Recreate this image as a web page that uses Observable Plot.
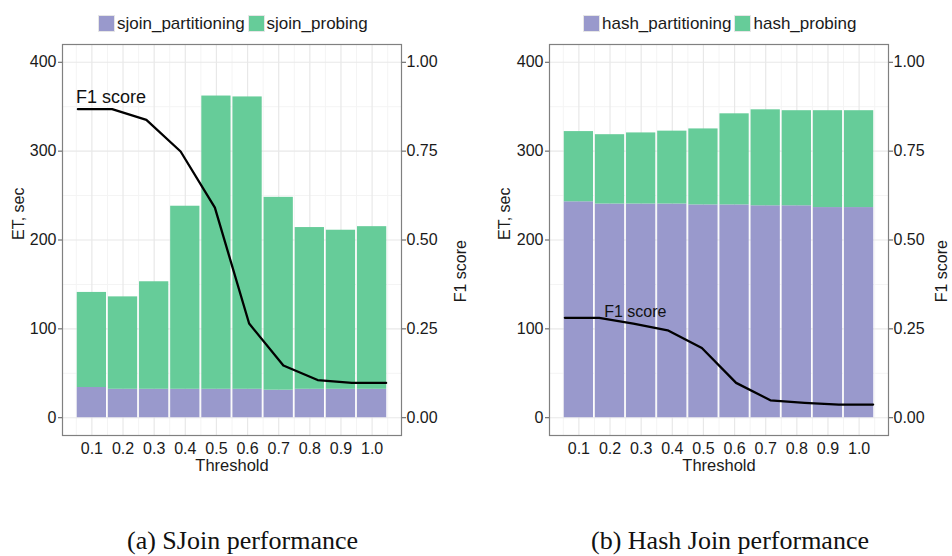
<!DOCTYPE html>
<html>
<head>
<meta charset="utf-8">
<script src="https://cdn.jsdelivr.net/npm/d3@7"></script>
<script src="https://cdn.jsdelivr.net/npm/@observablehq/plot@0.6"></script>
<style>
  html, body { margin: 0; padding: 0; background: #fff; }
  #wrap { position: relative; width: 952px; height: 556px; overflow: hidden; background: #fff; font-family: "Liberation Sans", Arial, Helvetica, sans-serif; }
  .panel { position: absolute; top: 0; }
  .legend { position: absolute; top: 15px; display: flex; align-items: center; height: 17px; font-size: 17px; color: #1a1a1a; white-space: nowrap; }
  .legend .sw { width: 17px; height: 17px; box-sizing: border-box; border: 1px solid #e6e6e6; margin-right: 2px; }
  .legend .item { display: flex; align-items: center; margin-right: 3px; line-height: 17px; }
  .caption { position: absolute; top: 528px; font-family: "Liberation Serif", "Times New Roman", serif; font-size: 26px; line-height: 26px; color: #111; transform: translateX(-50%); white-space: nowrap; }
</style>
</head>
<body>
<div id="wrap"></div>
<script>
// ---- data ----
const thresholds = [0.1, 0.2, 0.3, 0.4, 0.5, 0.6, 0.7, 0.8, 0.9, 1.0];

const sjoinSeries = ["sjoin_partitioning", "sjoin_probing"];
const sjoinPartitioning = [34, 32, 32, 32, 32, 32, 31, 32, 32, 32];
const sjoinProbing      = [107, 104, 121, 206, 330, 329, 217, 182, 179, 183];
const sjoinF1           = [0.868, 0.868, 0.838, 0.749, 0.591, 0.265, 0.147, 0.106, 0.098, 0.098];

const hashSeries = ["hash_partitioning", "hash_probing"];
const hashPartitioning = [243, 240.5, 240.5, 240.5, 239.5, 239.5, 238.5, 238.5, 236.5, 236.5];
const hashProbing      = [79, 78, 80, 82, 85.5, 102.5, 108, 107, 109, 109];
const hashF1           = [0.281, 0.281, 0.265, 0.246, 0.196, 0.098, 0.049, 0.042, 0.037, 0.037];

// x positions of the F1 line vertices (line spans the full bar extent)
const f1X = [0.055, 0.165, 0.275, 0.385, 0.495, 0.605, 0.715, 0.825, 0.935, 1.045];

const yTicks  = [0, 100, 200, 300, 400];
const yMinor  = [50, 150, 250, 350];
const xMinor  = [0.05, 0.15, 0.25, 0.35, 0.45, 0.55, 0.65, 0.75, 0.85, 0.95, 1.05];
const f1Max   = 1.0;      // right axis 1.00 corresponds to 400 on the left axis
const etMax   = 400;
const colors  = ["#9999CC", "#66CC99"];
const captions = ["(a) SJoin performance", "(b) Hash Join performance"];

// ---- drawing ----
const wrap = document.getElementById("wrap");
const FONT = "'Liberation Sans', Arial, Helvetica, sans-serif";

function panel(cfg) {
  const rows = thresholds.flatMap((t, i) => [
    {t, y1: 0, y2: cfg.part[i], s: cfg.series[0]},
    {t, y1: cfg.part[i], y2: cfg.part[i] + cfg.probe[i], s: cfg.series[1]}
  ]);
  const line = cfg.f1.map((v, i) => ({x: f1X[i], y: v / f1Max * etMax}));
  const half = 0.047;
  const plot = Plot.plot({
    width: 476, height: 480,
    marginLeft: cfg.ml, marginRight: cfg.mr, marginTop: 44, marginBottom: 45,
    x: {domain: [0.0056, 1.0944]},
    y: {domain: [-20, 420]},
    color: {domain: cfg.series, range: colors},
    style: {fontFamily: FONT, fontSize: "16px", color: "#1a1a1a", background: "#fff", overflow: "visible"},
    marks: [
      Plot.gridX(xMinor, {stroke: "#f4f4f4", strokeOpacity: 1, strokeWidth: 1}),
      Plot.gridY(yMinor, {stroke: "#f4f4f4", strokeOpacity: 1, strokeWidth: 1}),
      Plot.gridX(thresholds, {stroke: "#e8e8e8", strokeOpacity: 1, strokeWidth: 1.2}),
      Plot.gridY(yTicks, {stroke: "#e8e8e8", strokeOpacity: 1, strokeWidth: 1.2}),
      Plot.rect(rows, {x1: d => d.t - half, x2: d => d.t + half, y1: "y1", y2: "y2", fill: "s"}),
      Plot.line(line, {x: "x", y: "y", stroke: "#000", strokeWidth: 2.3}),
      Plot.text([line[cfg.annot.i]], {x: "x", y: "y", text: () => "F1 score", textAnchor: "start",
        lineAnchor: "bottom", dx: cfg.annot.dx, dy: cfg.annot.dy, fontSize: cfg.annot.size, fill: "#111"}),
      Plot.frame({stroke: "#808080", strokeWidth: 1.2}),
      Plot.axisY(yTicks, {anchor: "left", tickSize: 4, tickPadding: 2, label: null, stroke: "#555", fontSize: 16, fill: "#1a1a1a"}),
      Plot.axisY(yTicks, {anchor: "right", tickSize: 4, tickPadding: 1, label: null, stroke: "#555", fontSize: 16, fill: "#1a1a1a",
        tickFormat: d => (d / etMax * f1Max).toFixed(2)}),
      Plot.axisX(thresholds, {anchor: "bottom", tickSize: 0, tickPadding: 7, label: null, fontSize: 16, fill: "#1a1a1a",
        tickFormat: d => d.toFixed(1)}),
      Plot.text(["Threshold"], {frameAnchor: "bottom", dy: 35, lineAnchor: "bottom", text: d => d, fontSize: 16.5, fill: "#1a1a1a"}),
      Plot.text(["ET, sec"], {frameAnchor: "left", dx: cfg.etDx, rotate: -90, lineAnchor: "bottom", text: d => d, fontSize: 16, fill: "#1a1a1a"}),
      Plot.text(["F1 score"], {frameAnchor: "right", dx: cfg.f1Dx, rotate: -90, lineAnchor: "bottom", text: d => d, fontSize: 16, fill: "#1a1a1a"})
    ]
  });
  plot.classList.add("panel");
  plot.style.left = cfg.left + "px";
  wrap.appendChild(plot);

  const leg = document.createElement("div");
  leg.className = "legend";
  leg.style.left = cfg.legLeft + "px";
  cfg.series.forEach((s, k) => {
    const it = document.createElement("div");
    it.className = "item";
    const sw = document.createElement("div");
    sw.className = "sw";
    sw.style.background = colors[k];
    const tx = document.createElement("span");
    tx.textContent = s;
    it.appendChild(sw); it.appendChild(tx);
    leg.appendChild(it);
  });
  wrap.appendChild(leg);

  const cap = document.createElement("div");
  cap.className = "caption";
  cap.style.left = cfg.capX + "px";
  cap.textContent = cfg.caption;
  wrap.appendChild(cap);
}

panel({left: 0, ml: 62, mr: 75, part: sjoinPartitioning, probe: sjoinProbing, f1: sjoinF1, series: sjoinSeries,
  annot: {i: 0, dx: -2, dy: -6, size: 18}, etDx: -38.7, f1Dx: 64, legLeft: 98, capX: 242.5, caption: captions[0]});
panel({left: 476, ml: 73, mr: 64, part: hashPartitioning, probe: hashProbing, f1: hashF1, series: hashSeries,
  annot: {i: 1, dx: 5, dy: -1, size: 16}, etDx: -39.7, f1Dx: 58.7, legLeft: 583, capX: 730, caption: captions[1]});
</script>
</body>
</html>
